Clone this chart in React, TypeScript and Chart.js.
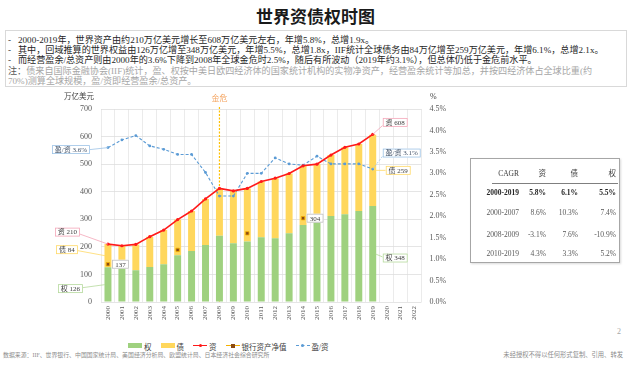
import React, { useEffect, useRef } from 'react';
import { Chart, registerables } from 'chart.js';
Chart.register(...registerables);

const years = ['2000','2001','2002','2003','2004','2005','2006','2007','2008','2009','2010','2011','2012','2013','2014','2015','2016','2017','2018','2019','2020','2021','2022'];
const equity = [126,122,115,127,137,170,185,207,240,213,219,235,231,249,279,291,312,318,330,348];
const debt = [84,82,94,110,124,129,145,167,172,190,193,202,218,217,215,209,221,243,243,259];
const assets = [210,204,209,237,261,299,330,374,412,403,412,437,449,466,494,500,533,561,573,608];
const bankNet: (number | null)[] = [137,null,null,null,null,189,null,null,null,null,249,null,null,null,304];
const surplusRatio = [3.6,3.78,3.88,3.64,3.56,3.44,3.44,3.02,2.47,2.47,3.0,3.0,3.36,3.22,3.19,3.4,3.22,3.22,3.22,3.1];
const crisisYear = '2008';
const leftTicksMax = 700;
const rightTicksMax = 4.5;

const cagrHeader = ['CAGR', '资', '债', '权'];
const cagrPeriods = ['2000-2019', '2000-2007', '2008-2009', '2010-2019'];
const cagrAsset = ['5.8%', '8.6%', '-3.1%', '4.3%'];
const cagrDebt = ['6.1%', '10.3%', '7.6%', '3.3%'];
const cagrEquity = ['5.5%', '7.4%', '-10.9%', '5.2%'];

const SERIF = "'Liberation Serif','Noto Sans CJK SC',serif";
const GREEN = '#9fd17f';
const YELLOW = '#ffd75c';
const RED = '#ff1a1a';
const BLUE = '#5b9bd5';
const BROWN = '#8b4a12';
const ORANGE = '#f5b000';

const CANVAS_TOP = 88;

function drawBox(ctx: CanvasRenderingContext2D, text: string, anchorX: number, cy: number, align: 'left' | 'right', stroke: string, color: string) {
  ctx.save();
  ctx.font = `7px ${SERIF}`;
  const w = Math.round(ctx.measureText(text).width + 6);
  const h = 9;
  const left = align === 'left' ? anchorX : anchorX - w;
  ctx.fillStyle = '#ffffff';
  ctx.fillRect(left, cy - h / 2, w, h);
  ctx.strokeStyle = stroke;
  ctx.lineWidth = 0.8;
  ctx.strokeRect(left + 0.5, cy - h / 2 + 0.5, w - 1, h - 1);
  ctx.fillStyle = color;
  ctx.textAlign = 'center';
  ctx.textBaseline = 'middle';
  ctx.fillText(text, left + w / 2, cy + 0.5);
  ctx.restore();
}

function leader(ctx: CanvasRenderingContext2D, x1: number, y1: number, x2: number, y2: number, color: string, dash?: number[]) {
  ctx.save();
  ctx.strokeStyle = color;
  ctx.lineWidth = 0.8;
  if (dash) ctx.setLineDash(dash);
  ctx.beginPath();
  ctx.moveTo(x1, y1);
  ctx.lineTo(x2, y2);
  ctx.stroke();
  ctx.restore();
}

const annotations = {
  id: 'annotations',
  beforeDatasetsDraw(chart: any) {
    const { ctx, scales, chartArea } = chart;
    const x = scales.x;
    const ci = years.indexOf(crisisYear);
    const cx = x.getPixelForValue(ci);
    ctx.save();
    ctx.strokeStyle = '#ffc000';
    ctx.lineWidth = 1.2;
    ctx.setLineDash([2, 1.5]);
    ctx.beginPath();
    ctx.moveTo(cx, chartArea.top - 2);
    ctx.lineTo(cx, chartArea.bottom);
    ctx.stroke();
    ctx.setLineDash([]);
    ctx.fillStyle = '#f4a460';
    ctx.font = `8px ${SERIF}`;
    ctx.textAlign = 'center';
    ctx.textBaseline = 'middle';
    ctx.fillText('金危', cx, chartArea.top - 10);
    ctx.restore();
  },
  afterDatasetsDraw(chart: any) {
    const { ctx, scales } = chart;
    const x = scales.x, y = scales.y, y1 = scales.y1;
    const i0 = 0;
    const p0 = x.getPixelForValue(i0);
    const ya0 = y.getPixelForValue(assets[i0]);
    const yr0 = y1.getPixelForValue(surplusRatio[i0]);
    const yd0 = y.getPixelForValue(equity[i0] + debt[i0] / 2);
    const ye0 = y.getPixelForValue(equity[i0] / 2);
    leader(ctx, p0, yr0, p0 - 18, yr0 + 2, '#9dc3e6');
    drawBox(ctx, `盈/资 ${surplusRatio[i0].toFixed(1)}%`, p0 - 18, yr0 + 2, 'right', '#9dc3e6', '#44546a');
    leader(ctx, p0, ya0, p0 - 28, ya0 - 10, '#f4a6b8');
    drawBox(ctx, `资 ${assets[i0]}`, p0 - 28, ya0 - 12, 'right', '#f4a6b8', '#404040');
    leader(ctx, p0 - 3, yd0, p0 - 30, yd0 - 5, '#ffd966');
    drawBox(ctx, `债 ${debt[i0]}`, p0 - 30, yd0 - 6, 'right', '#ffd966', '#404040');
    leader(ctx, p0 - 3, ye0, p0 - 25, ye0 + 3, '#b5d99c');
    drawBox(ctx, `权 ${equity[i0]}`, p0 - 25, ye0 + 4, 'right', '#b5d99c', '#404040');
    drawBox(ctx, `${bankNet[i0]}`, p0 + 4, y.getPixelForValue(bankNet[i0] as number), 'left', '#bfbfbf', '#404040');

    const ib = 14;
    const pb = x.getPixelForValue(ib);
    drawBox(ctx, `${bankNet[ib]}`, pb + 3.5, y.getPixelForValue(bankNet[ib] as number), 'left', '#bfbfbf', '#404040');

    const il = assets.length - 1;
    const pl = x.getPixelForValue(il);
    const yal = y.getPixelForValue(assets[il]);
    const yrl = y1.getPixelForValue(surplusRatio[il]);
    const ydl = y.getPixelForValue(equity[il] + debt[il] / 2);
    const yel = y.getPixelForValue(equity[il] / 2);
    leader(ctx, pl, yal, pl + 10, yal - 9, '#f4a6b8');
    drawBox(ctx, `资 ${assets[il]}`, pl + 10, yal - 12, 'left', '#f4a6b8', '#404040');
    leader(ctx, pl, yrl, pl + 10, yrl - 13, '#9dc3e6', [2, 1.5]);
    drawBox(ctx, `盈/资 ${surplusRatio[il].toFixed(1)}%`, pl + 10, yrl - 16, 'left', '#9dc3e6', '#44546a');
    leader(ctx, pl + 3, ydl, pl + 13, ydl, '#ffd966');
    drawBox(ctx, `债 ${debt[il]}`, pl + 13, ydl, 'left', '#ffd966', '#404040');
    leader(ctx, pl + 3, yel, pl + 10, yel + 3, '#b5d99c');
    drawBox(ctx, `权 ${equity[il]}`, pl + 10, yel + 4, 'left', '#b5d99c', '#404040');
  },
};

function ChartCanvas() {
  const ref = useRef<HTMLCanvasElement>(null);
  useEffect(() => {
    if (!ref.current) return;
    const tickFont = { family: SERIF, size: 8 };
    const chart = new Chart(ref.current, {
      type: 'bar',
      data: {
        labels: years,
        datasets: [
          { type: 'line', label: '资', data: assets, yAxisID: 'y', stack: 'assetLine', borderColor: RED, backgroundColor: RED, borderWidth: 1.6, pointRadius: 1.6, pointBackgroundColor: RED, pointBorderWidth: 0, order: 1 } as any,
          { type: 'line', label: '银行资产净值', data: bankNet, yAxisID: 'y', stack: 'bankLine', showLine: false, pointStyle: 'rect', pointRadius: 2.4, pointBackgroundColor: BROWN, pointBorderColor: ORANGE, pointBorderWidth: 0.8, borderColor: ORANGE, order: 0 } as any,
          { type: 'line', label: '盈/资', data: surplusRatio, yAxisID: 'y1', borderColor: BLUE, backgroundColor: BLUE, borderWidth: 1.1, borderDash: [3, 2], pointRadius: 1.4, pointBackgroundColor: BLUE, pointBorderWidth: 0, order: 2 } as any,
          { type: 'bar', label: '权', data: equity, yAxisID: 'y', stack: 'bars', backgroundColor: GREEN, barPercentage: 0.5, categoryPercentage: 1, order: 5 },
          { type: 'bar', label: '债', data: debt, yAxisID: 'y', stack: 'bars', backgroundColor: YELLOW, barPercentage: 0.5, categoryPercentage: 1, order: 5 },
        ],
      },
      options: {
        responsive: false,
        animation: false,
        layout: { padding: { top: 21, left: 0, right: 0, bottom: 0 } },
        plugins: { legend: { display: false }, tooltip: { enabled: false } },
        scales: {
          x: {
            stacked: true,
            offset: true,
            grid: { offset: true, color: '#e6e6e6', lineWidth: 0.8, drawTicks: false },
            border: { display: false },
            ticks: { font: { family: SERIF, size: 7 }, color: '#595959', minRotation: 90, maxRotation: 90, autoSkip: false, padding: 4 },
            afterFit: (s: any) => { s.height = 31; },
          },
          y: {
            stacked: true,
            min: 0,
            max: leftTicksMax,
            ticks: { stepSize: 100, font: tickFont, color: '#595959', padding: 9 },
            grid: { color: '#dedede', lineWidth: 0.8, drawTicks: false },
            border: { display: false },
            afterFit: (s: any) => { s.width = 101; },
          },
          y1: {
            position: 'right',
            min: 0,
            max: rightTicksMax,
            ticks: { stepSize: 0.5, font: tickFont, color: '#595959', padding: 8, callback: (v: any) => Number(v).toFixed(1) + '%' },
            grid: { display: false, drawTicks: false },
            border: { display: false },
            afterFit: (s: any) => { s.width = 48.5; },
          },
        },
      },
      plugins: [annotations],
    });
    return () => chart.destroy();
  }, []);
  return <canvas ref={ref} width={470} height={245} style={{ position: 'absolute', left: 0, top: CANVAS_TOP, width: 470, height: 245 }} />;
}

const lineStyle: React.CSSProperties = { position: 'absolute', whiteSpace: 'nowrap', fontSize: 9.1, lineHeight: '10px' };

export default function App() {
  const legendItems = [
    { label: '权', kind: 'box', color: GREEN },
    { label: '债', kind: 'box', color: YELLOW },
    { label: '资', kind: 'line', color: RED },
    { label: '银行资产净值', kind: 'marker', color: ORANGE },
    { label: '盈/资', kind: 'dash', color: BLUE },
  ];
  const rowsY = [34, 54, 76, 95];
  const colRight = [50, 77, 109, 147];
  return (
    <div style={{ position: 'absolute', left: 0, top: 0, width: 631, height: 368, background: '#fff', overflow: 'hidden', fontFamily: SERIF, color: '#262626' }}>
      <div style={{ position: 'absolute', left: 0, top: 5, width: 631, textAlign: 'center', fontFamily: "'Noto Sans CJK SC',sans-serif", fontWeight: 700, fontSize: 17, lineHeight: '22px', color: '#1a1a1a' }}>世界资债权时图</div>
      <div style={{ position: 'absolute', left: 5, top: 30, width: 622, height: 57, border: '1px solid #d9d9d9', boxSizing: 'border-box' }} />
      <div style={{ ...lineStyle, left: 8, top: 35 }}>-</div>
      <div style={{ ...lineStyle, left: 18, top: 35 }}>2000-2019年，世界资产由约210万亿美元增长至608万亿美元左右，年增5.8%，总增1.9x。</div>
      <div style={{ ...lineStyle, left: 8, top: 45 }}>-</div>
      <div style={{ ...lineStyle, left: 18, top: 45 }}>其中，回域推算的世界权益由126万亿增至348万亿美元，年增5.5%，总增1.8x，IIF统计全球债务由84万亿增至259万亿美元，年增6.1%，总增2.1x。</div>
      <div style={{ ...lineStyle, left: 8, top: 55 }}>-</div>
      <div style={{ ...lineStyle, left: 18, top: 55 }}>而经营盈余/总资产则由2000年的3.6%下降到2008年全球金危时2.5%，随后有所波动（2019年约3.1%），但总体仍低于金危前水平。</div>
      <div style={{ ...lineStyle, left: 8, top: 66, color: '#a6a6a6' }}><span style={{ color: '#595959' }}>注：</span>债来自国际金融协会(IIF)统计，盈、权按中美日欧四经济体的国家统计机构的实物净资产，经营盈余统计等加总，并按四经济体占全球比重(约</div>
      <div style={{ ...lineStyle, left: 8, top: 76, color: '#a6a6a6' }}>70%)测算全球规模，盈/资即经营盈余/总资产。</div>

      <ChartCanvas />
      <div style={{ position: 'absolute', left: 64, top: 90, fontSize: 7.5, color: '#404040', whiteSpace: 'nowrap' }}>万亿美元</div>
      <div style={{ position: 'absolute', left: 430, top: 92, fontSize: 8, color: '#404040' }}>%</div>

      <div style={{ position: 'absolute', left: 128, top: 341, display: 'flex', alignItems: 'center', gap: 9, fontSize: 7.5, color: '#404040', whiteSpace: 'nowrap', height: 10 }}>
        {legendItems.map((it) => (
          <div key={it.label} style={{ display: 'flex', alignItems: 'center', gap: 2 }}>
            <div style={{ position: 'relative', width: 14, height: 6 }}>
              {it.kind === 'box' && <div style={{ position: 'absolute', left: 0, top: 0, width: 14, height: 5, background: it.color }} />}
              {it.kind !== 'box' && <div style={{ position: 'absolute', left: 0, top: 2, width: 14, height: 0, borderTop: `1.4px ${it.kind === 'dash' ? 'dashed' : 'solid'} ${it.color}` }} />}
              {it.kind === 'marker' && <div style={{ position: 'absolute', left: 5, top: 0.5, width: 4, height: 4, background: BROWN }} />}
              {it.kind === 'line' && <div style={{ position: 'absolute', left: 5.5, top: 1.2, width: 3, height: 3, borderRadius: 2, background: RED }} />}
              {it.kind === 'dash' && <div style={{ position: 'absolute', left: 5.5, top: 1.2, width: 3, height: 3, borderRadius: 2, background: BLUE }} />}
            </div>
            <span>{it.label}</span>
          </div>
        ))}
      </div>

      <div style={{ position: 'absolute', left: 470, top: 158, width: 150, height: 105, border: '1px solid #a6a6a6', boxSizing: 'border-box', boxShadow: '1px 1px 2px rgba(0,0,0,0.15)', fontSize: 7.5, color: '#404040' }}>
        {cagrHeader.map((h, c) => (
          <div key={h} style={{ position: 'absolute', right: 150 - colRight[c], top: 15 - 5, lineHeight: '10px', whiteSpace: 'nowrap' }}>{h}</div>
        ))}
        <div style={{ position: 'absolute', left: 21, top: 24, width: 126, height: 0, borderTop: '1px solid #7f7f7f' }} />
        {cagrPeriods.map((p, r) => {
          const cells = [p, cagrAsset[r], cagrDebt[r], cagrEquity[r]];
          return cells.map((t, c) => (
            <div key={p + c} style={{ position: 'absolute', right: 150 - colRight[c], top: rowsY[r] - 5, lineHeight: '10px', whiteSpace: 'nowrap', fontWeight: r === 0 ? 700 : 400, color: r === 0 ? '#262626' : '#595959' }}>{t}</div>
          ));
        })}
      </div>

      <div style={{ position: 'absolute', left: 617, top: 327, fontSize: 8, color: '#a6a6a6' }}>2</div>
      <div style={{ position: 'absolute', left: 3, top: 350, fontSize: 5.9, color: '#8c8c8c', whiteSpace: 'nowrap' }}>数据来源：IIF、世界银行、中国国家统计局、美国经济分析局、欧盟统计局、日本经济社会综合研究所</div>
      <div style={{ position: 'absolute', right: 8, top: 350, fontSize: 6.3, color: '#8c8c8c', whiteSpace: 'nowrap' }}>未经授权不得以任何形式复制、引用、转发</div>
    </div>
  );
}
